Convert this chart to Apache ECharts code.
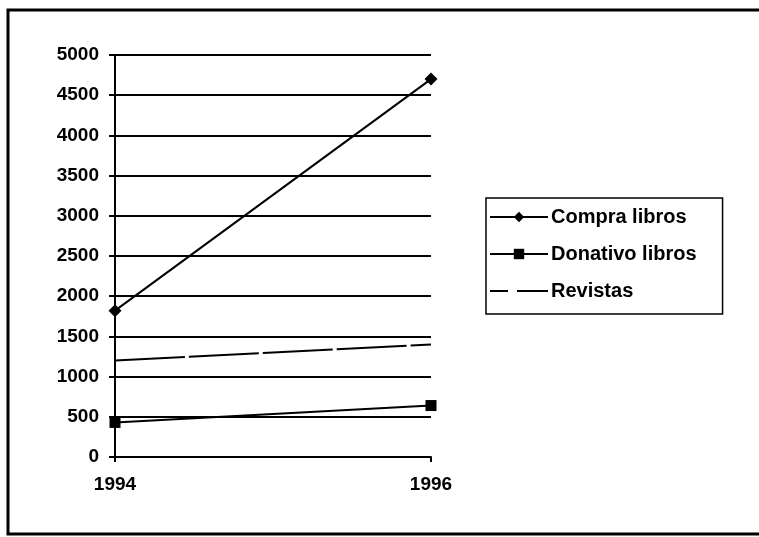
<!DOCTYPE html>
<html>
<head>
<meta charset="utf-8">
<script src="https://cdn.jsdelivr.net/npm/echarts@6/dist/echarts.min.js"></script>
<style>
  html, body { margin: 0; padding: 0; background: #fff; }
  #chart { width: 759px; height: 537px; }
</style>
</head>
<body>
<div id="chart"></div>
<script>
var years = ["1994", "1996"];
var compraLibros = [1820, 4700];
var donativoLibros = [430, 640];
var revistas = [1200, 1400];
var seriesNames = ["Compra libros", "Donativo libros", "Revistas"];

var chart = echarts.init(document.getElementById("chart"));
var font = "Liberation Sans, Arial, sans-serif";

var option = {
   backgroundColor: "#fff",
   animation: false,
   graphic: [{
      type: "rect",
      shape: { x: 8, y: 10, width: 760, height: 524 },
      style: { fill: "none", stroke: "#000", lineWidth: 3 }
   }],
   grid: { left: 115, right: 328, top: 55, bottom: 80 },
   legend: {
      orient: "vertical",
      left: 486,
      top: 198,
      data: [
         { name: seriesNames[0] },
         { name: seriesNames[1] },
         { name: seriesNames[2], itemStyle: { opacity: 0 }, lineStyle: { type: [18, 9, 31, 0] } }
      ],
      backgroundColor: "#fff",
      borderColor: "#000",
      borderWidth: 1.5,
      padding: [9, 26, 13, 3],
      itemWidth: 58,
      itemHeight: 13,
      itemGap: 17,
      textStyle: { color: "#000", fontSize: 20, fontWeight: "bold", fontFamily: font, padding: [0, 0, 0, -2] }
   },
   xAxis: {
      type: "category",
      data: years,
      boundaryGap: false,
      axisLine: { lineStyle: { color: "#000", width: 2 } },
      axisTick: { show: true, length: 5, lineStyle: { color: "#000", width: 2 } },
      axisLabel: { color: "#000", fontSize: 19, fontWeight: "bold", fontFamily: font, margin: 18 },
      splitLine: { show: false }
   },
   yAxis: {
      type: "value",
      min: 0,
      max: 5000,
      interval: 500,
      axisLine: { show: true, lineStyle: { color: "#000", width: 2 } },
      axisTick: { show: true, length: 6, lineStyle: { color: "#000", width: 2 } },
      axisLabel: {
         color: "#000", fontSize: 19, fontWeight: "bold", fontFamily: font, margin: 16,
         formatter: function (v) { return String(v); }
      },
      splitLine: { show: true, lineStyle: { color: "#000", width: 2 } }
   },
   series: [{
      name: seriesNames[0],
      type: "line",
      data: compraLibros,
      symbol: "diamond",
      symbolSize: 13,
      itemStyle: { color: "#000" },
      lineStyle: { color: "#000", width: 2 }
   }, {
      name: seriesNames[1],
      type: "line",
      data: donativoLibros,
      symbol: "rect",
      symbolSize: 11,
      itemStyle: { color: "#000" },
      lineStyle: { color: "#000", width: 2 }
   }, {
      name: seriesNames[2],
      type: "line",
      data: revistas,
      symbol: "none",
      itemStyle: { color: "#000" },
      lineStyle: { color: "#000", width: 2, type: [70, 4] }
   }]
};

chart.setOption(option);
</script>
</body>
</html>
